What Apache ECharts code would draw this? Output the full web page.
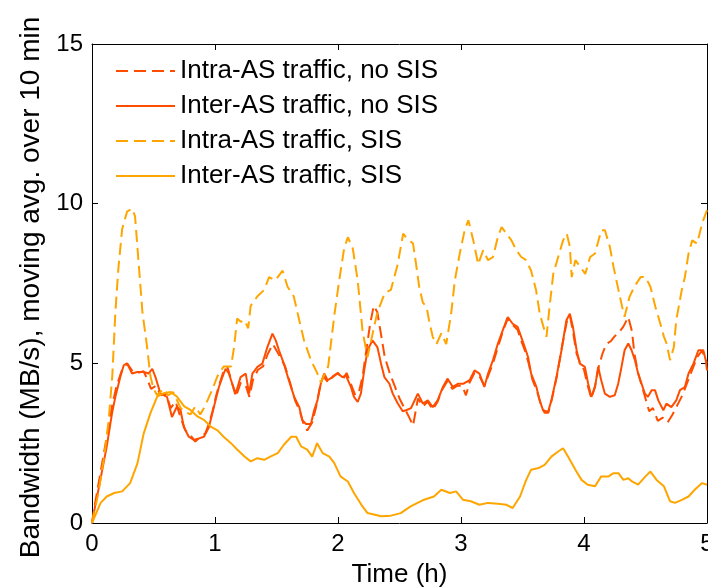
<!DOCTYPE html>
<html>
<head>
<meta charset="utf-8">
<script src="https://cdn.jsdelivr.net/npm/echarts@6/dist/echarts.min.js"></script>
<style>
html,body{margin:0;padding:0;background:#fff;overflow:hidden;}
#chart{width:708px;height:588px;}
</style>
</head>
<body>
<div id="chart"></div>
<script>
var seriesNames = ['Intra-AS traffic, no SIS', 'Inter-AS traffic, no SIS', 'Intra-AS traffic, SIS', 'Inter-AS traffic, SIS'];
var xTitle = 'Time (h)';
var yTitle = 'Bandwidth (MB/s), moving avg. over 10 min';

// Intra-AS traffic, no SIS (red dashed)
var tIntraNoSis = [0,0.02,0.07,0.12,0.165,0.2,0.245,0.285,0.33,0.37,0.42,0.45,0.48,0.52,0.56,0.6,0.64,0.68,0.72,0.76,0.8,0.84,0.88,0.92,0.95,0.98,1.01,1.04,1.07,1.1,1.13,1.17,1.21,1.25,1.28,1.31,1.35,1.39,1.43,1.47,1.5,1.53,1.57,1.61,1.65,1.69,1.72,1.75,1.79,1.82,1.85,1.88,1.92,1.96,2.0,2.04,2.07,2.1,2.14,2.17,2.2,2.23,2.26,2.29,2.32,2.35,2.38,2.42,2.46,2.5,2.54,2.58,2.61,2.65,2.69,2.73,2.77,2.81,2.85,2.89,2.93,2.97,3.01,3.04,3.07,3.11,3.15,3.19,3.22,3.26,3.3,3.34,3.38,3.42,3.46,3.49,3.52,3.55,3.58,3.62,3.65,3.68,3.71,3.74,3.78,3.82,3.86,3.885,3.91,3.94,3.97,4.0,4.03,4.06,4.09,4.12,4.15,4.18,4.22,4.25,4.29,4.32,4.36,4.39,4.41,4.44,4.47,4.5,4.53,4.56,4.6,4.64,4.68,4.72,4.76,4.8,4.84,4.88,4.92,4.96,5.0];
var vIntraNoSis = [0,0.5,1.6,2.7,3.7,4.3,4.8,5.0,4.75,4.7,4.75,4.5,4.2,4.3,4.0,4.05,3.6,3.8,3.3,2.9,2.75,2.55,2.7,2.8,3.1,3.5,4.0,4.4,4.75,4.9,4.5,3.95,4.4,4.3,3.95,4.5,4.8,4.9,5.3,5.6,5.4,5.2,4.9,4.4,3.85,3.5,3.1,2.9,3.15,3.6,4.2,4.6,4.4,4.6,4.7,4.5,4.7,4.4,4.0,4.1,4.6,5.4,6.2,6.8,6.6,5.9,5.2,4.7,4.3,3.9,3.6,3.3,3.05,3.9,3.65,3.8,3.55,3.8,4.2,4.45,4.2,4.3,4.3,4.0,4.4,4.7,4.6,4.3,4.6,5.0,5.5,6.0,6.4,6.2,6.05,5.7,5.4,5.0,4.5,4.1,3.7,3.45,3.45,3.9,4.6,5.5,6.3,6.5,6.0,5.3,5.0,4.8,4.3,3.9,4.3,4.9,5.3,5.6,5.7,5.85,6.0,6.15,6.45,6.0,5.3,4.7,4.3,3.9,3.5,3.6,3.2,3.3,3.15,3.4,3.7,4.0,4.4,4.8,5.2,5.4,5.0];

// Inter-AS traffic, no SIS (red solid)
var tInterNoSis = [0,0.014,0.068,0.12,0.163,0.19,0.23,0.258,0.285,0.326,0.367,0.42,0.46,0.49,0.516,0.557,0.61,0.65,0.69,0.72,0.747,0.787,0.828,0.87,0.91,0.95,0.978,1.005,1.032,1.06,1.086,1.113,1.14,1.168,1.208,1.25,1.277,1.304,1.345,1.385,1.426,1.467,1.494,1.52,1.56,1.6,1.644,1.685,1.71,1.74,1.78,1.806,1.833,1.86,1.888,1.915,1.956,1.996,2.037,2.064,2.105,2.13,2.16,2.186,2.213,2.24,2.28,2.32,2.35,2.377,2.418,2.445,2.486,2.526,2.553,2.594,2.649,2.69,2.73,2.77,2.81,2.853,2.89,2.934,2.975,3.016,3.07,3.11,3.15,3.19,3.22,3.26,3.3,3.34,3.38,3.42,3.46,3.49,3.518,3.545,3.57,3.613,3.64,3.667,3.708,3.735,3.776,3.817,3.857,3.885,3.91,3.94,3.966,4.007,4.034,4.06,4.09,4.115,4.14,4.17,4.21,4.25,4.278,4.305,4.33,4.36,4.387,4.414,4.44,4.468,4.495,4.52,4.55,4.577,4.604,4.645,4.67,4.71,4.75,4.78,4.82,4.85,4.89,4.93,4.97,4.99,5.0];
var vInterNoSis = [0,0.3,1.35,2.4,3.44,3.95,4.57,4.94,5.0,4.68,4.73,4.73,4.68,4.83,4.57,4.05,3.95,3.32,3.64,3.53,3.0,2.7,2.6,2.65,2.7,3.0,3.43,3.85,4.26,4.57,4.83,4.68,4.36,4.05,4.57,4.68,4.05,4.68,4.89,4.99,5.51,5.93,5.72,5.41,4.99,4.47,3.95,3.63,3.22,3.1,3.1,3.53,3.84,4.36,4.68,4.47,4.57,4.68,4.57,4.62,4.26,3.95,3.79,4.05,4.78,5.41,5.72,5.51,4.99,4.57,4.36,4.05,3.74,3.5,3.53,3.6,4.05,3.74,3.84,3.63,3.84,4.26,4.52,4.26,4.36,4.36,4.47,4.78,4.68,4.26,4.68,5.1,5.62,6.04,6.45,6.24,6.14,5.82,5.51,5.2,4.68,4.26,3.84,3.53,3.48,3.84,4.57,5.41,6.35,6.55,6.14,5.41,4.99,4.89,4.36,3.95,4.26,4.89,4.47,4.05,3.95,4.0,4.36,4.89,5.41,5.62,5.41,5.1,4.68,4.36,4.05,3.95,4.16,4.16,3.84,3.53,3.74,3.63,3.84,4.16,4.26,4.68,4.99,5.41,5.41,5.1,4.78];

// Intra-AS traffic, SIS (orange dashed)
var tIntraSis = [0,0.05,0.1,0.135,0.165,0.19,0.215,0.245,0.285,0.326,0.35,0.38,0.41,0.445,0.475,0.5,0.53,0.58,0.62,0.66,0.69,0.72,0.75,0.8,0.84,0.88,0.91,0.94,0.98,1.02,1.07,1.13,1.155,1.18,1.21,1.24,1.27,1.29,1.345,1.4,1.44,1.49,1.55,1.59,1.64,1.685,1.725,1.78,1.83,1.86,1.92,1.97,2.01,2.05,2.08,2.12,2.16,2.2,2.24,2.28,2.32,2.38,2.43,2.485,2.53,2.55,2.61,2.635,2.66,2.69,2.72,2.74,2.77,2.8,2.84,2.88,2.92,2.95,2.99,3.03,3.06,3.1,3.14,3.18,3.22,3.26,3.3,3.33,3.37,3.41,3.45,3.49,3.53,3.57,3.61,3.64,3.67,3.695,3.72,3.75,3.79,3.83,3.86,3.885,3.9,3.93,3.97,4.01,4.05,4.09,4.14,4.17,4.21,4.24,4.28,4.31,4.33,4.37,4.41,4.46,4.5,4.54,4.58,4.62,4.65,4.67,4.7,4.73,4.75,4.795,4.82,4.85,4.88,4.92,4.96,5.0];
var vIntraSis = [0,0.9,2.1,3.2,4.6,6.6,8.0,9.2,9.75,9.85,9.6,8.1,6.6,5.6,4.6,4.2,4.0,4.2,4.0,4.1,3.85,3.6,3.5,3.4,3.65,3.4,3.6,3.85,4.2,4.6,4.9,4.9,5.5,6.4,6.3,6.35,6.1,6.8,7.1,7.3,7.7,7.6,7.9,7.4,7.1,6.35,5.7,5.1,4.7,4.4,4.9,6.5,7.6,8.6,8.95,8.6,7.6,6.0,5.2,5.9,6.6,7.2,7.3,8.1,9.06,8.96,8.75,8.1,7.4,6.9,6.77,6.35,5.83,5.6,5.94,5.6,6.56,7.6,8.44,9.17,9.48,8.85,8.1,8.54,8.23,8.33,8.96,9.27,9.06,8.85,8.54,8.33,8.23,7.9,7.3,6.56,6.15,5.83,6.77,7.8,8.33,8.85,9.06,8.65,7.7,8.23,8.02,7.8,8.33,8.44,9.17,9.17,8.65,8.02,7.3,6.77,6.46,7.08,7.4,7.7,7.7,7.4,6.77,6.25,5.83,5.63,5.1,5.5,6.35,7.3,7.7,8.44,8.85,8.75,9.38,9.8];

// Inter-AS traffic, SIS (orange solid)
var tInterSis = [0,0.07,0.12,0.18,0.245,0.31,0.37,0.42,0.475,0.53,0.58,0.64,0.69,0.75,0.8,0.86,0.91,0.965,1.02,1.07,1.13,1.18,1.24,1.29,1.345,1.4,1.45,1.51,1.56,1.62,1.66,1.7,1.75,1.79,1.83,1.875,1.93,1.97,2.02,2.08,2.13,2.19,2.24,2.3,2.35,2.43,2.51,2.59,2.7,2.78,2.84,2.91,2.96,3.015,3.08,3.15,3.22,3.3,3.37,3.42,3.48,3.53,3.57,3.63,3.68,3.735,3.79,3.83,3.87,3.93,3.98,4.03,4.09,4.14,4.2,4.24,4.28,4.32,4.36,4.39,4.44,4.5,4.54,4.59,4.65,4.7,4.74,4.8,4.85,4.9,4.96,5.0];
var vInterSis = [0,0.63,0.83,0.94,0.99,1.25,1.875,2.8,3.44,3.96,4.06,4.1,3.96,3.65,3.54,3.33,3.23,3.02,2.9,2.7,2.5,2.3,2.08,1.93,2.03,1.98,2.08,2.19,2.45,2.7,2.7,2.4,2.3,2.08,2.5,2.19,2.08,1.875,1.46,1.3,0.94,0.57,0.31,0.26,0.21,0.23,0.31,0.52,0.73,0.83,1.04,0.94,0.99,0.73,0.68,0.57,0.63,0.6,0.57,0.47,0.83,1.35,1.67,1.72,1.82,2.08,2.24,2.34,2.08,1.67,1.35,1.2,1.15,1.46,1.46,1.56,1.56,1.35,1.4,1.3,1.2,1.46,1.61,1.35,1.15,0.68,0.63,0.73,0.83,1.04,1.25,1.2];

var xTicks = [0, 5, 1];   // min, max, interval
var yTicks = [0, 15, 5];

function pairs(t, v) { return t.map(function (x, i) { return [x, v[i]]; }); }

var RED = '#ff4d00', ORANGE = '#ffa500';
var DASH = [12, 6];
var FONT = 'Liberation Sans, Arial, Helvetica, sans-serif';

var chart = echarts.init(document.getElementById('chart'), null, {renderer: 'canvas', width: 708, height: 588});

function mkSeries(name, t, v, color, dashed) {
  return {
    name: name, type: 'line', data: pairs(t, v),
    xAxisIndex: 0, yAxisIndex: 0,
    showSymbol: false, symbol: 'none', animation: false,
    lineStyle: {color: color, width: 2, type: dashed ? DASH : 'solid'},
    itemStyle: {color: color}
  };
}

var axisCommon = {
  type: 'value',
  splitLine: {show: false},
  axisLine: {show: true, onZero: false, lineStyle: {color: '#000', width: 1}},
  axisTick: {show: true, inside: true, length: 6, lineStyle: {color: '#000', width: 1}}
};

chart.setOption({
  backgroundColor: '#fff',
  animation: false,
  textStyle: {fontFamily: FONT},
  grid: {left: 92, right: 1, top: 44, bottom: 65, containLabel: false, outerBoundsMode: 'none'},
  legend: {
    orient: 'vertical', left: 110, top: 51,
    itemWidth: 59, itemHeight: 2, itemGap: 5,
    itemStyle: {color: 'rgba(0,0,0,0)', borderWidth: 0, opacity: 0},
    data: seriesNames,
    textStyle: {fontSize: 26, color: '#000', fontFamily: FONT, lineHeight: 30}
  },
  xAxis: [
    Object.assign({}, axisCommon, {
      min: xTicks[0], max: xTicks[1], interval: xTicks[2], position: 'bottom',
      axisLabel: {fontSize: 24, color: '#000', margin: 9, fontFamily: FONT},
      name: xTitle, nameLocation: 'middle', nameGap: 39,
      nameTextStyle: {fontSize: 26, color: '#000', fontFamily: FONT}
    }),
    Object.assign({}, axisCommon, {
      min: xTicks[0], max: xTicks[1], interval: xTicks[2], position: 'top',
      axisLabel: {show: false}
    })
  ],
  yAxis: [
    Object.assign({}, axisCommon, {
      min: yTicks[0], max: yTicks[1], interval: yTicks[2], position: 'left',
      axisLabel: {fontSize: 24, color: '#000', margin: 9, fontFamily: FONT},
      name: yTitle, nameLocation: 'middle', nameGap: 46, nameRotate: 90,
      nameTextStyle: {fontSize: 28, color: '#000', fontFamily: FONT, padding: [0, 0, 0, -8]}
    }),
    Object.assign({}, axisCommon, {
      min: yTicks[0], max: yTicks[1], interval: yTicks[2], position: 'right',
      axisLabel: {show: false}
    })
  ],
  series: [
    mkSeries(seriesNames[0], tIntraNoSis, vIntraNoSis, RED, true),
    mkSeries(seriesNames[1], tInterNoSis, vInterNoSis, RED, false),
    mkSeries(seriesNames[2], tIntraSis, vIntraSis, ORANGE, true),
    mkSeries(seriesNames[3], tInterSis, vInterSis, ORANGE, false)
  ]
});
</script>
</body>
</html>
